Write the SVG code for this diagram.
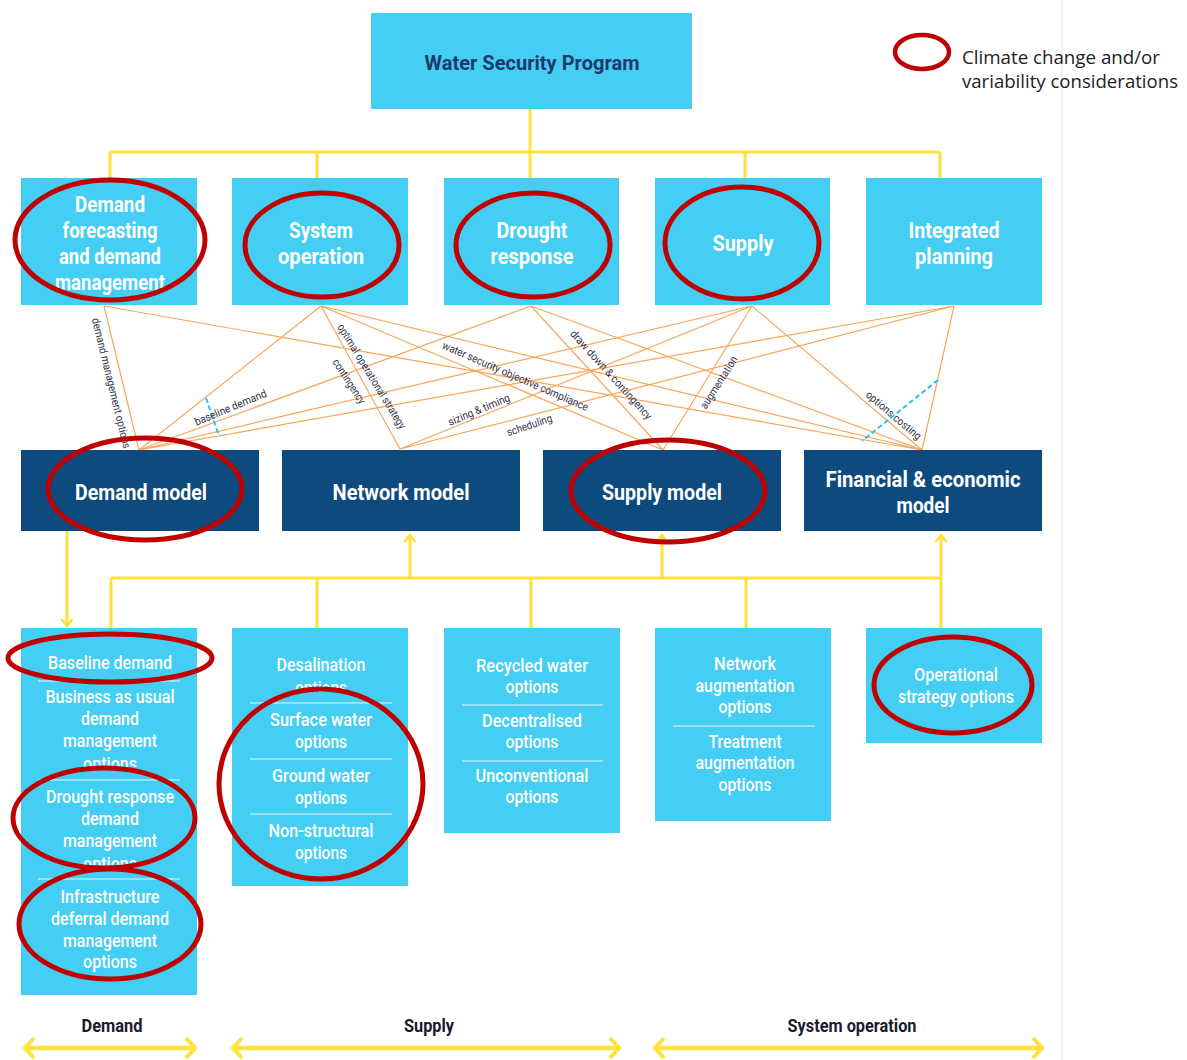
<svg xmlns="http://www.w3.org/2000/svg" width="1187" height="1060" viewBox="0 0 1187 1060">
<defs>
<style>
.cy{fill:#45CEF4}
.nv{fill:#0D4A7E}
.bt{font-family:Roboto,'Liberation Sans',sans-serif;font-weight:700;font-size:22px;fill:#fff;text-anchor:middle}
.title{font-family:Roboto,'Liberation Sans',sans-serif;font-weight:700;font-size:21px;fill:#1E3A6B;text-anchor:middle}
.op{font-family:Roboto,'Liberation Sans',sans-serif;font-weight:500;font-size:19px;fill:#fff;text-anchor:middle}
.lbl{font-family:Roboto,'Liberation Sans',sans-serif;font-size:11px;fill:#34344a;text-anchor:middle}
.or{stroke:#F9A65A;stroke-width:1.2;fill:none}
.yl{stroke:#FFE03C;stroke-width:3;fill:none}
.yb{stroke:#FFE03C;stroke-width:4.5;fill:none}
.dash{stroke:#2BC1EF;stroke-width:2;stroke-dasharray:5 3;fill:none}
.dv{stroke:#fff;stroke-width:1.2;opacity:.85}
.red{fill:none;stroke:#BE0000;stroke-width:5}
.ax{font-family:Roboto,'Liberation Sans',sans-serif;font-weight:700;font-size:18px;fill:#1A1A2E;text-anchor:middle}
.leg{font-family:'Open Sans','Liberation Sans',sans-serif;font-size:19px;fill:#222}
</style>
<marker id="chevS" viewBox="-10 -8 12 16" markerWidth="12" markerHeight="16" refX="0" refY="0" orient="auto" markerUnits="userSpaceOnUse">
<path d="M-7,-5.5 L0,0 L-7,5.5" fill="none" stroke="#FFE03C" stroke-width="2.5"/>
</marker>
<marker id="chevB" viewBox="-14 -13 17 26" markerWidth="17" markerHeight="26" refX="0" refY="0" orient="auto-start-reverse" markerUnits="userSpaceOnUse">
<path d="M-9,-10 L0,0 L-9,10" fill="none" stroke="#FFE03C" stroke-width="4"/>
</marker>
<clipPath id="cpD2"><rect x="21" y="682" width="176" height="85"/></clipPath>
<clipPath id="cpD3"><rect x="21" y="781" width="176" height="86"/></clipPath>
<clipPath id="cpS1"><rect x="232" y="628" width="176" height="64"/></clipPath>
</defs>
<rect x="0" y="0" width="1187" height="1060" fill="#fff"/>
<line x1="1062" y1="0" x2="1062" y2="1060" stroke="#E2E2E2" stroke-width="1"/>

<g id="connectors">
<g id="relations">
<path class="or" d="M104,306 L139,450 M104,306 L922,450 M321,306 L139,450 M321,306 L400,449 M321,306 L663,450 M321,306 L922,450 M531,306 L139,450 M531,306 L663,450 M531,306 L922,450 M752,306 L139,450 M752,306 L400,449 M752,306 L663,450 M752,306 L922,450 M954,306 L139,450 M954,306 L400,449 M954,306 L922,450"/>
<line class="dash" x1="206" y1="398" x2="218" y2="433"/>
<line class="dash" x1="938" y1="380" x2="862" y2="441"/>
<text class="lbl" transform="translate(107.6,384) rotate(76.3)" textLength="134" lengthAdjust="spacingAndGlyphs">demand management options</text>
<text class="lbl" transform="translate(232,411) rotate(-22.6)" textLength="77" lengthAdjust="spacingAndGlyphs">baseline demand</text>
<text class="lbl" transform="translate(368.5,378.3) rotate(58.5)" textLength="121" lengthAdjust="spacingAndGlyphs">optimal operational strategy</text>
<text class="lbl" transform="translate(346,383.4) rotate(57)" textLength="51" lengthAdjust="spacingAndGlyphs">contingency</text>
<text class="lbl" transform="translate(514,379.7) rotate(23.5)" textLength="158" lengthAdjust="spacingAndGlyphs">water security objective compliance</text>
<text class="lbl" transform="translate(480.4,413.2) rotate(-22.7)" textLength="66" lengthAdjust="spacingAndGlyphs">sizing &amp; timing</text>
<text class="lbl" transform="translate(530.6,428.8) rotate(-18.4)" textLength="47" lengthAdjust="spacingAndGlyphs">scheduling</text>
<text class="lbl" transform="translate(608.4,377.3) rotate(47.8)" textLength="116" lengthAdjust="spacingAndGlyphs">draw down &amp; contingency</text>
<text class="lbl" transform="translate(722,384.4) rotate(-57.9)" textLength="60" lengthAdjust="spacingAndGlyphs">augmentation</text>
<text class="lbl" transform="translate(891.2,418.2) rotate(40.3)" textLength="69" lengthAdjust="spacingAndGlyphs">options costing</text>
</g>
<g id="hierarchy">
<path class="yl" d="M530,109 V152 M110,152 H940 M110,152 V178 M317,152 V178 M530,152 V178 M745,152 V178 M940,152 V178"/>
<path class="yl" d="M111,578 H941 M111,578 V628 M317,578 V628 M531,578 V628 M746,578 V628 M941,578 V628"/>
<path class="yl" d="M67,531 V626" marker-end="url(#chevS)"/>
<path class="yl" d="M410,578 V535" marker-end="url(#chevS)"/>
<path class="yl" d="M662,578 V535" marker-end="url(#chevS)"/>
<path class="yl" d="M941,578 V535" marker-end="url(#chevS)"/>
</g>
<g id="axis-arrows">
<path class="yb" d="M25,1048 H195" marker-start="url(#chevB)" marker-end="url(#chevB)"/>
<path class="yb" d="M233,1048 H619" marker-start="url(#chevB)" marker-end="url(#chevB)"/>
<path class="yb" d="M655,1048 H1042" marker-start="url(#chevB)" marker-end="url(#chevB)"/>
</g>
</g>

<g id="water-security-program">
<rect class="cy" x="371" y="13" width="321" height="96"/>
<text class="title" x="532" y="70" textLength="215" lengthAdjust="spacingAndGlyphs">Water Security Program</text>
</g>

<g id="demand-forecasting">
<rect class="cy" x="21" y="178" width="176" height="127"/>
<text class="bt" x="110" y="212" textLength="70" lengthAdjust="spacingAndGlyphs">Demand</text>
<text class="bt" x="110" y="238" textLength="95" lengthAdjust="spacingAndGlyphs">forecasting</text>
<text class="bt" x="110" y="264" textLength="102" lengthAdjust="spacingAndGlyphs">and demand</text>
<text class="bt" x="110" y="290" textLength="110" lengthAdjust="spacingAndGlyphs">management</text>
</g>
<g id="system-operation">
<rect class="cy" x="232" y="178" width="176" height="127"/>
<text class="bt" x="321" y="238" textLength="64" lengthAdjust="spacingAndGlyphs">System</text>
<text class="bt" x="321" y="264" textLength="86" lengthAdjust="spacingAndGlyphs">operation</text>
</g>
<g id="drought-response">
<rect class="cy" x="444" y="178" width="175" height="127"/>
<text class="bt" x="532" y="238" textLength="71" lengthAdjust="spacingAndGlyphs">Drought</text>
<text class="bt" x="532" y="264" textLength="83" lengthAdjust="spacingAndGlyphs">response</text>
</g>
<g id="supply">
<rect class="cy" x="655" y="178" width="175" height="127"/>
<text class="bt" x="743" y="251" textLength="61" lengthAdjust="spacingAndGlyphs">Supply</text>
</g>
<g id="integrated-planning">
<rect class="cy" x="866" y="178" width="176" height="127"/>
<text class="bt" x="954" y="238" textLength="91" lengthAdjust="spacingAndGlyphs">Integrated</text>
<text class="bt" x="954" y="264" textLength="78" lengthAdjust="spacingAndGlyphs">planning</text>
</g>

<g id="demand-model">
<rect class="nv" x="21" y="450" width="238" height="81"/>
<text class="bt" x="141" y="500" textLength="132" lengthAdjust="spacingAndGlyphs">Demand model</text>
</g>
<g id="network-model">
<rect class="nv" x="282" y="450" width="238" height="81"/>
<text class="bt" x="401" y="500" textLength="137" lengthAdjust="spacingAndGlyphs">Network model</text>
</g>
<g id="supply-model">
<rect class="nv" x="543" y="450" width="238" height="81"/>
<text class="bt" x="662" y="500" textLength="120" lengthAdjust="spacingAndGlyphs">Supply model</text>
</g>
<g id="financial-model">
<rect class="nv" x="804" y="450" width="238" height="81"/>
<text class="bt" x="923" y="487" textLength="195" lengthAdjust="spacingAndGlyphs">Financial &amp; economic</text>
<text class="bt" x="923" y="513" textLength="53" lengthAdjust="spacingAndGlyphs">model</text>
</g>

<g id="demand-options">
<rect class="cy" x="21" y="628" width="176" height="367"/>
<text class="op" x="110" y="669" textLength="124" lengthAdjust="spacingAndGlyphs">Baseline demand</text>
<line class="dv" x1="38" y1="681" x2="180" y2="681"/>
<g clip-path="url(#cpD2)">
<text class="op" x="110" y="703" textLength="129" lengthAdjust="spacingAndGlyphs">Business as usual</text>
<text class="op" x="110" y="725" textLength="58" lengthAdjust="spacingAndGlyphs">demand</text>
<text class="op" x="110" y="747" textLength="94" lengthAdjust="spacingAndGlyphs">management</text>
<text class="op" x="110" y="770" textLength="54" lengthAdjust="spacingAndGlyphs">options</text>
</g>
<line class="dv" x1="38" y1="780" x2="180" y2="780"/>
<g clip-path="url(#cpD3)">
<text class="op" x="110" y="803" textLength="128" lengthAdjust="spacingAndGlyphs">Drought response</text>
<text class="op" x="110" y="825" textLength="58" lengthAdjust="spacingAndGlyphs">demand</text>
<text class="op" x="110" y="847" textLength="94" lengthAdjust="spacingAndGlyphs">management</text>
<text class="op" x="110" y="870" textLength="54" lengthAdjust="spacingAndGlyphs">options</text>
</g>
<line class="dv" x1="38" y1="879" x2="180" y2="879"/>
<text class="op" x="110" y="903" textLength="99" lengthAdjust="spacingAndGlyphs">Infrastructure</text>
<text class="op" x="110" y="925" textLength="118" lengthAdjust="spacingAndGlyphs">deferral demand</text>
<text class="op" x="110" y="947" textLength="94" lengthAdjust="spacingAndGlyphs">management</text>
<text class="op" x="110" y="968" textLength="54" lengthAdjust="spacingAndGlyphs">options</text>
</g>

<g id="supply-options">
<rect class="cy" x="232" y="628" width="176" height="258"/>
<g clip-path="url(#cpS1)">
<text class="op" x="321" y="671" textLength="89" lengthAdjust="spacingAndGlyphs">Desalination</text>
<text class="op" x="321" y="694" textLength="52" lengthAdjust="spacingAndGlyphs">options</text>
</g>
<line class="dv" x1="250" y1="703" x2="392" y2="703"/>
<text class="op" x="321" y="726" textLength="102" lengthAdjust="spacingAndGlyphs">Surface water</text>
<text class="op" x="321" y="748" textLength="52" lengthAdjust="spacingAndGlyphs">options</text>
<line class="dv" x1="250" y1="759" x2="392" y2="759"/>
<text class="op" x="321" y="782" textLength="98" lengthAdjust="spacingAndGlyphs">Ground water</text>
<text class="op" x="321" y="804" textLength="52" lengthAdjust="spacingAndGlyphs">options</text>
<line class="dv" x1="250" y1="814" x2="392" y2="814"/>
<text class="op" x="321" y="837" textLength="105" lengthAdjust="spacingAndGlyphs">Non-structural</text>
<text class="op" x="321" y="859" textLength="52" lengthAdjust="spacingAndGlyphs">options</text>
</g>

<g id="alternative-supply-options">
<rect class="cy" x="444" y="628" width="176" height="205"/>
<text class="op" x="532" y="672" textLength="112" lengthAdjust="spacingAndGlyphs">Recycled water</text>
<text class="op" x="532" y="693" textLength="53" lengthAdjust="spacingAndGlyphs">options</text>
<line class="dv" x1="462" y1="705" x2="603" y2="705"/>
<text class="op" x="532" y="727" textLength="100" lengthAdjust="spacingAndGlyphs">Decentralised</text>
<text class="op" x="532" y="748" textLength="53" lengthAdjust="spacingAndGlyphs">options</text>
<line class="dv" x1="462" y1="761" x2="603" y2="761"/>
<text class="op" x="532" y="782" textLength="113" lengthAdjust="spacingAndGlyphs">Unconventional</text>
<text class="op" x="532" y="803" textLength="53" lengthAdjust="spacingAndGlyphs">options</text>
</g>

<g id="augmentation-options">
<rect class="cy" x="655" y="628" width="176" height="193"/>
<text class="op" x="745" y="670" textLength="62" lengthAdjust="spacingAndGlyphs">Network</text>
<text class="op" x="745" y="692" textLength="99" lengthAdjust="spacingAndGlyphs">augmentation</text>
<text class="op" x="745" y="713" textLength="53" lengthAdjust="spacingAndGlyphs">options</text>
<line class="dv" x1="673" y1="726" x2="815" y2="726"/>
<text class="op" x="745" y="748" textLength="73" lengthAdjust="spacingAndGlyphs">Treatment</text>
<text class="op" x="745" y="769" textLength="99" lengthAdjust="spacingAndGlyphs">augmentation</text>
<text class="op" x="745" y="791" textLength="53" lengthAdjust="spacingAndGlyphs">options</text>
</g>

<g id="operational-options">
<rect class="cy" x="866" y="628" width="176" height="115"/>
<text class="op" x="956" y="681" textLength="84" lengthAdjust="spacingAndGlyphs">Operational</text>
<text class="op" x="956" y="703" textLength="116" lengthAdjust="spacingAndGlyphs">strategy options</text>
</g>

<g id="axis-labels">
<text class="ax" x="112" y="1032" textLength="61" lengthAdjust="spacingAndGlyphs">Demand</text>
<text class="ax" x="429" y="1032" textLength="50" lengthAdjust="spacingAndGlyphs">Supply</text>
<text class="ax" x="852" y="1032" textLength="129" lengthAdjust="spacingAndGlyphs">System operation</text>
</g>

<g id="climate-marks">
<ellipse class="red" cx="110" cy="240" rx="95" ry="60"/>
<ellipse class="red" cx="322" cy="245" rx="77" ry="52"/>
<ellipse class="red" cx="533" cy="245" rx="77" ry="52"/>
<ellipse class="red" cx="742" cy="243" rx="77" ry="56"/>
<ellipse class="red" cx="145" cy="489" rx="97" ry="51"/>
<ellipse class="red" cx="668" cy="491" rx="97" ry="51"/>
<ellipse class="red" cx="110" cy="658" rx="102" ry="24"/>
<ellipse class="red" cx="104" cy="818" rx="91" ry="50"/>
<ellipse class="red" cx="110" cy="924" rx="91" ry="55"/>
<ellipse class="red" cx="321" cy="784" rx="102" ry="95"/>
<ellipse class="red" cx="953" cy="685" rx="79" ry="48"/>
</g>

<g id="legend">
<ellipse cx="922" cy="52" rx="27" ry="17" fill="none" stroke="#BE0000" stroke-width="4.5"/>
<text class="leg" x="962" y="64" textLength="198" lengthAdjust="spacingAndGlyphs">Climate change and/or</text>
<text class="leg" x="962" y="88" textLength="216" lengthAdjust="spacingAndGlyphs">variability considerations</text>
</g>
</svg>
